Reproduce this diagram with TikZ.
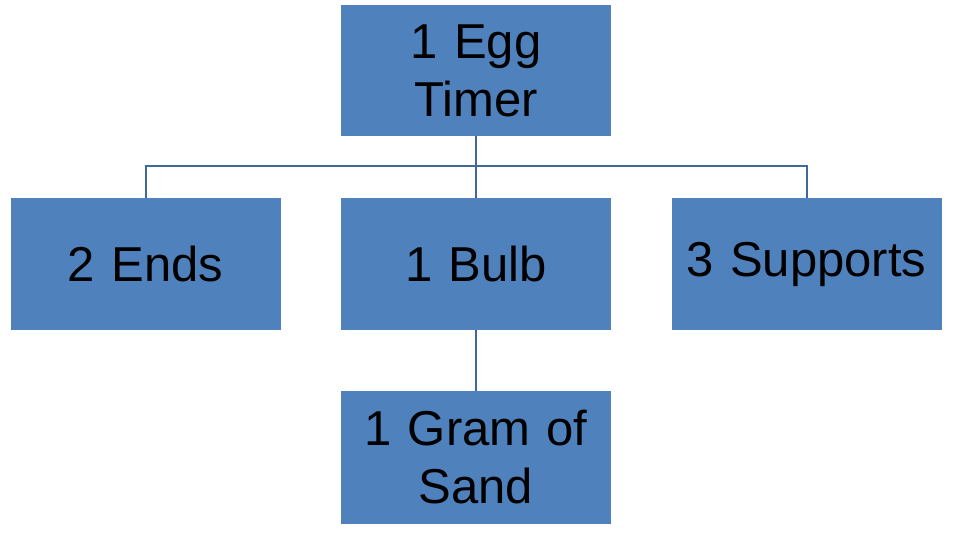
\documentclass[tikz,border=0pt]{standalone}
\usepackage{fontspec}
\setmainfont{Liberation Sans}
\definecolor{boxblue}{HTML}{4F81BD}
\definecolor{linecol}{HTML}{3E6A9A}
\begin{document}
\begin{tikzpicture}[x=1pt,y=-1pt,
  box/.style={draw=none,fill=boxblue,minimum width=270pt,minimum height=132pt,inner sep=0pt,align=center,text width=266pt,font=\fontsize{49}{58}\selectfont},
  conn/.style={draw=linecol,line width=2pt}]
\useasboundingbox (0,0) rectangle (956,534);
\node[box,minimum height=131pt] (top) at (476,70.5) {1 Egg\\Timer};
\node[box] (ends) at (145.5,264) {2 Ends};
\node[box] (bulb) at (476,264) {1 Bulb};
\node[box] (sup) at (806.5,264) {3 Supports};
\node[box,minimum height=133pt] (sand) at (476,457.5) {1 Gram of\\Sand};
\coordinate (j) at (476,166);
\draw[conn] (top.south) -- (j);
\draw[conn] (ends.north) |- (j) -| (sup.north);
\draw[conn] (j) -- (bulb.north);
\draw[conn] (bulb.south) -- (sand.north);
\end{tikzpicture}
\end{document}
